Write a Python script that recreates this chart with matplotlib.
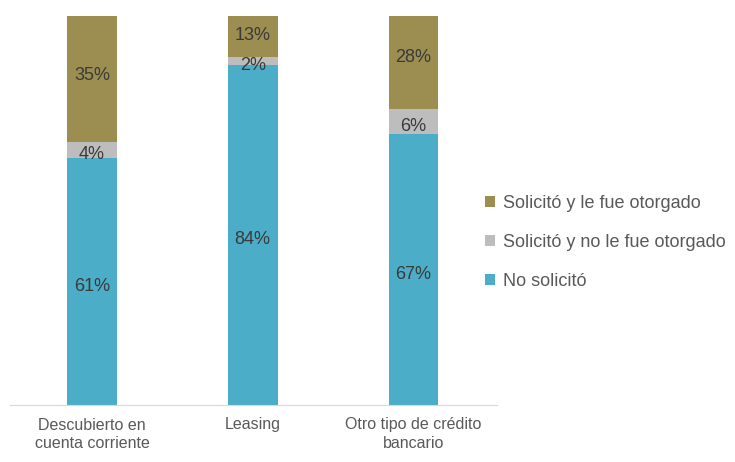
import matplotlib.pyplot as plt
import numpy as np

plt.rcParams['font.family'] = ['Liberation Sans', 'DejaVu Sans']

categories = ['Descubierto en\ncuenta corriente', 'Leasing', 'Otro tipo de crédito\nbancario']
no_solicito = [61, 84, 67]
solicito_no = [4, 2, 6]
solicito_si = [35, 13, 28]

series = [
    ('No solicitó', no_solicito, '#4BADC7'),
    ('Solicitó y no le fue otorgado', solicito_no, '#BDBDBD'),
    ('Solicitó y le fue otorgado', solicito_si, '#9C8D50'),
]

fig = plt.figure(figsize=(7.35, 4.62), dpi=100)
ax = fig.add_axes([10 / 735, 1 - 405 / 462, 487 / 735, 389 / 462])

x = np.arange(len(categories))
bottom = np.zeros(len(categories))
handles = []
for name, vals, color in series:
    vals = np.array(vals, dtype=float)
    b = ax.bar(x, vals, 0.31, bottom=bottom, color=color, label=name, zorder=2)
    handles.append(b)
    for xi, v, bt in zip(x, vals, bottom):
        ax.text(xi, bt + v / 2 - 1.2, f'{int(v)}%', ha='center', va='center',
                fontsize=13, color='#3A3A3A', clip_on=False, zorder=3)
    bottom += vals

ax.set_xlim(-0.51, 2.52)
ax.set_ylim(0, 96)
ax.set_xticks(x)
ax.set_xticklabels(categories, fontsize=11.5, color='#595959', linespacing=1.3)
ax.tick_params(axis='x', length=0, pad=9)
ax.set_yticks([])
for s in ['top', 'right', 'left']:
    ax.spines[s].set_visible(False)
ax.spines['bottom'].set_color('#D9D9D9')

leg = fig.legend(handles[::-1], [h.get_label() for h in handles[::-1]],
                 loc='upper left', bbox_to_anchor=(469 / 735, 1 - 179 / 462),
                 frameon=False, fontsize=13, labelcolor='#595959',
                 handlelength=0.55, handleheight=0.55, handletextpad=0.45,
                 labelspacing=1.2)

fig.savefig('out.png', dpi=100)
